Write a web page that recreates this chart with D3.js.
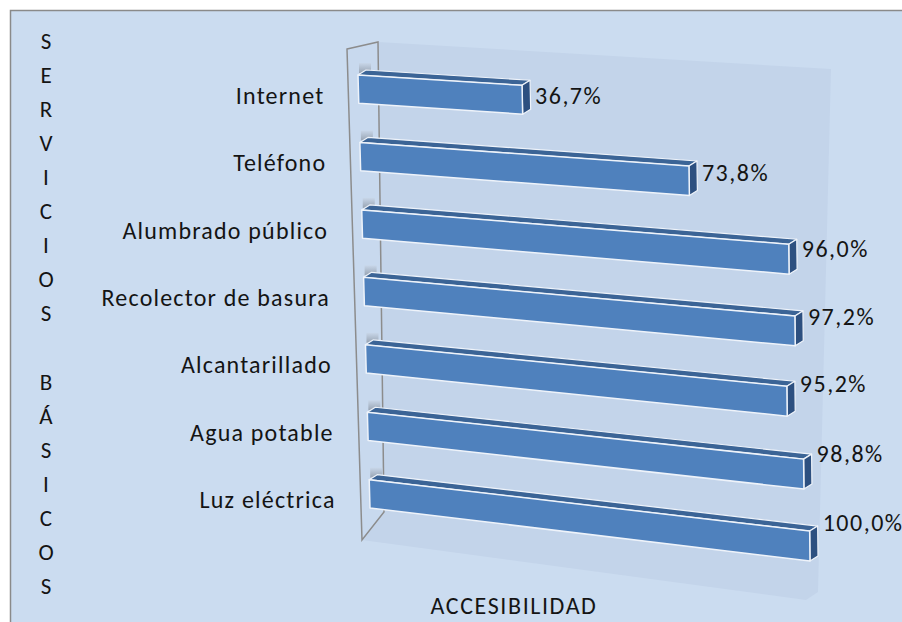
<!DOCTYPE html>
<html>
<head>
<meta charset="utf-8">
<script src="https://cdn.jsdelivr.net/npm/d3@7"></script>
<style>
    body { margin: 0; background: #fff; }
    .chart text { font-family: Carlito, Lato, sans-serif; fill: #141414; }
</style>
</head>
<body>
<svg class="chart"></svg>
<script>
var categories = ["Internet", "Teléfono", "Alumbrado público", "Recolector de basura",
                  "Alcantarillado", "Agua potable", "Luz eléctrica"];
var values = [36.7, 73.8, 96.0, 97.2, 95.2, 98.8, 100.0];
var yAxisTitle = "SERVICIOS BÁSICOS";
var xAxisTitle = "ACCESIBILIDAD";

var width = 902, height = 622;

var svg = d3.select(".chart")
    .attr("width", width)
    .attr("height", height);

// outer frame
svg.append("rect")
    .attr("x", 10.5).attr("y", 10.5)
    .attr("width", 900).attr("height", 620)
    .attr("fill", "#cbdcf0")
    .attr("stroke", "#8a8a8a")
    .attr("stroke-width", 1.5);

// front plane corners of the perspective box (value 0/100, top/bottom)
var c00 = [358, 75], c10 = [805, 103],
    c01 = [370, 508], c11 = [810, 561];
var depth = [8, -5];

var x = d3.scaleLinear().domain([0, 100]).range([0, 1]);
var y = d3.scaleBand().domain(categories).range([0, 1]).paddingInner(0.58);

function project(t, s) {
    var top = [c00[0] + (c10[0] - c00[0]) * t, c00[1] + (c10[1] - c00[1]) * t],
        bot = [c01[0] + (c11[0] - c01[0]) * t, c01[1] + (c11[1] - c01[1]) * t];
    return [top[0] + (bot[0] - top[0]) * s, top[1] + (bot[1] - top[1]) * s];
}
function back(p) { return [p[0] + depth[0], p[1] + depth[1]]; }
var line = d3.line();

// back wall and floor
svg.append("path")
    .attr("d", line([[378, 42], [831, 69], [818, 592], [806, 600], [362, 540]]) + "Z")
    .attr("fill", "#c3d4ea");

// side wall
svg.append("path")
    .attr("d", line([[347, 49], [378, 42], [384, 512], [362, 540]]) + "Z")
    .attr("fill", "#c8d9ee")
    .attr("stroke", "#8c8c8c")
    .attr("stroke-width", 1.5);

var shade = svg.append("defs").append("linearGradient")
    .attr("id", "shade").attr("x1", 0).attr("x2", 0).attr("y1", 0).attr("y2", 1);
shade.append("stop").attr("offset", "0%").attr("stop-color", "#c8d6e8");
shade.append("stop").attr("offset", "100%").attr("stop-color", "#8f9aa8");

var bars = svg.selectAll("g.bar")
    .data(categories.map(function(c, i) { return {name: c, value: values[i]}; }))
    .enter()
    .append("g")
    .attr("class", "bar");

// little wall shadows next to the bar ends
bars.append("rect")
    .attr("x", function(d) { return project(0, y(d.name))[0] + 1; })
    .attr("y", function(d) { return project(0, y(d.name))[1] - 12; })
    .attr("width", 12)
    .attr("height", 10)
    .attr("fill", "url(#shade)")
    .attr("opacity", 0.85);

bars.append("path")
    .attr("d", function(d) {
        var a = project(0, y(d.name)), b = project(x(d.value), y(d.name));
        return line([a, b, back(b), back(a)]) + "Z";
    })
    .attr("fill", "#3b6496")
    .attr("stroke", "#eef3fa")
    .attr("stroke-width", 1.2)
    .attr("stroke-linejoin", "round");

bars.append("path")
    .attr("d", function(d) {
        var t = x(d.value),
            b = project(t, y(d.name)), c = project(t, y(d.name) + y.bandwidth());
        return line([b, back(b), back(c), c]) + "Z";
    })
    .attr("fill", "#2d5080")
    .attr("stroke", "#eef3fa")
    .attr("stroke-width", 1.2)
    .attr("stroke-linejoin", "round");

bars.append("path")
    .attr("d", function(d) {
        var t = x(d.value), s0 = y(d.name), s1 = s0 + y.bandwidth();
        return line([project(0, s0), project(t, s0), project(t, s1), project(0, s1)]) + "Z";
    })
    .attr("fill", "#4f81bd")
    .attr("stroke", "#eef3fa")
    .attr("stroke-width", 1.5)
    .attr("stroke-linejoin", "round");

// category labels
bars.append("text")
    .attr("x", function(d) { return project(0, y(d.name) + y.bandwidth() / 2)[0] - 34; })
    .attr("y", function(d) { return project(0, y(d.name) + y.bandwidth() / 2)[1] + 6; })
    .attr("text-anchor", "end")
    .attr("dominant-baseline", "central")
    .style("font-size", "24px")
    .style("letter-spacing", "1.2px")
    .text(function(d) { return d.name; });

// value labels
var fmt = d3.format(".1f");
bars.append("text")
    .attr("x", function(d) { return back(project(x(d.value), y(d.name)))[0] + 5; })
    .attr("y", function(d) {
        var s = y(d.name);
        return project(x(d.value), s)[1] + 10 - 20 * s;
    })
    .attr("dominant-baseline", "central")
    .style("font-size", "24px")
    .style("letter-spacing", "1.5px")
    .text(function(d) { return fmt(d.value).replace(".", ",") + "%"; });

// vertical axis title, one letter per line
svg.append("g").selectAll("text")
    .data(yAxisTitle.split(""))
    .enter()
    .append("text")
    .attr("x", 46)
    .attr("y", function(d, i) { return 41 + i * 34.06; })
    .attr("text-anchor", "middle")
    .attr("dominant-baseline", "central")
    .style("font-size", "23px")
    .text(function(d) { return d; });

svg.append("text")
    .attr("x", 514)
    .attr("y", 605)
    .attr("text-anchor", "middle")
    .attr("dominant-baseline", "central")
    .style("font-size", "24px")
    .style("letter-spacing", "1.6px")
    .text(xAxisTitle);
</script>
</body>
</html>
